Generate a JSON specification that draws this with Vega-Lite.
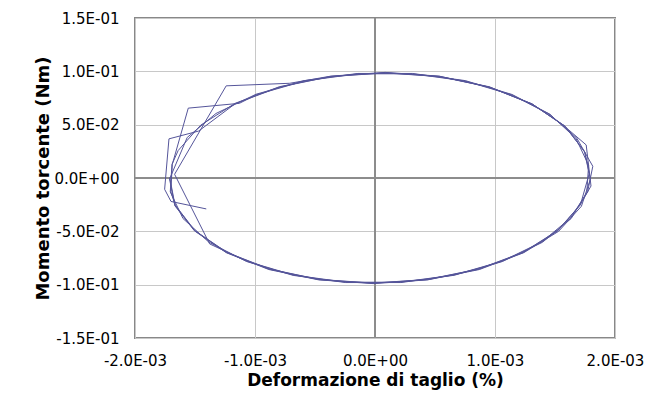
{
  "$schema": "https://vega.github.io/schema/vega-lite/v6.json",
  "autosize": "none",
  "width": 480,
  "height": 320,
  "padding": {"left": 135, "top": 18, "right": 49, "bottom": 60},
  "background": "white",
  "config": {
    "view": {"stroke": "#888888", "strokeWidth": 2},
    "axis": {
      "labelFont": "DejaVu Sans",
      "labelFontSize": 15,
      "labelColor": "#000000",
      "labelFlush": false,
      "labelOverlap": false,
      "titleFont": "DejaVu Sans",
      "titleFontWeight": "bold",
      "titleColor": "#000000",
      "ticks": false,
      "tickSize": 0,
      "domain": false,
      "grid": true,
      "gridColor": "#c8c8c8",
      "gridWidth": 1
    }
  },
  "data": {"values": [
    {"i":1,"strain":-0.001406,"torque":-0.0290},
    {"i":2,"strain":-0.001700,"torque":-0.0220},
    {"i":3,"strain":-0.001753,"torque":-0.0106},
    {"i":4,"strain":-0.001717,"torque":0.0367},
    {"i":5,"strain":-0.001470,"torque":0.0440},
    {"i":6,"strain":-0.001164,"torque":0.0697},
    {"i":7,"strain":-0.000794,"torque":0.0853},
    {"i":8,"strain":-0.000368,"torque":0.0951},
    {"i":9,"strain":0.000085,"torque":0.0985},
    {"i":10,"strain":0.000535,"torque":0.0951},
    {"i":11,"strain":0.000951,"torque":0.0853},
    {"i":12,"strain":0.001304,"torque":0.0697},
    {"i":13,"strain":0.001571,"torque":0.0493},
    {"i":14,"strain":0.001760,"torque":0.0310},
    {"i":15,"strain":0.001800,"torque":-0.0075},
    {"i":16,"strain":0.001708,"torque":-0.0255},
    {"i":17,"strain":0.001521,"torque":-0.0493},
    {"i":18,"strain":0.001234,"torque":-0.0697},
    {"i":19,"strain":0.000864,"torque":-0.0853},
    {"i":20,"strain":0.000438,"torque":-0.0951},
    {"i":21,"strain":-0.000015,"torque":-0.0985},
    {"i":22,"strain":-0.000465,"torque":-0.0951},
    {"i":23,"strain":-0.000881,"torque":-0.0853},
    {"i":24,"strain":-0.001234,"torque":-0.0697},
    {"i":25,"strain":-0.001501,"torque":-0.0493},
    {"i":26,"strain":-0.001664,"torque":-0.0255},
    {"i":27,"strain":-0.001702,"torque":-0.0129},
    {"i":28,"strain":-0.001689,"torque":0.0129},
    {"i":29,"strain":-0.001556,"torque":0.0655},
    {"i":30,"strain":-0.001130,"torque":0.0700},
    {"i":31,"strain":-0.000988,"torque":0.0781},
    {"i":32,"strain":-0.000587,"torque":0.0910},
    {"i":33,"strain":-0.000143,"torque":0.0977},
    {"i":34,"strain":0.000312,"torque":0.0977},
    {"i":35,"strain":0.000749,"torque":0.0910},
    {"i":36,"strain":0.001137,"torque":0.0781},
    {"i":37,"strain":0.001450,"torque":0.0600},
    {"i":38,"strain":0.001680,"torque":0.0377},
    {"i":39,"strain":0.001815,"torque":0.0110},
    {"i":40,"strain":0.001772,"torque":-0.0129},
    {"i":41,"strain":0.001628,"torque":-0.0377},
    {"i":42,"strain":0.001389,"torque":-0.0600},
    {"i":43,"strain":0.001058,"torque":-0.0781},
    {"i":44,"strain":0.000657,"torque":-0.0910},
    {"i":45,"strain":0.000213,"torque":-0.0977},
    {"i":46,"strain":-0.000242,"torque":-0.0977},
    {"i":47,"strain":-0.000679,"torque":-0.0910},
    {"i":48,"strain":-0.001067,"torque":-0.0781},
    {"i":49,"strain":-0.001378,"torque":-0.0618},
    {"i":50,"strain":-0.001670,"torque":0.0035},
    {"i":51,"strain":-0.001240,"torque":0.0864},
    {"i":52,"strain":-0.000710,"torque":0.0888},
    {"i":53,"strain":-0.000368,"torque":0.0955},
    {"i":54,"strain":0.000085,"torque":0.0990},
    {"i":55,"strain":0.000535,"torque":0.0955},
    {"i":56,"strain":0.000960,"torque":0.0850},
    {"i":57,"strain":0.001315,"torque":0.0690},
    {"i":58,"strain":0.001585,"torque":0.0485},
    {"i":59,"strain":0.001750,"torque":0.0240},
    {"i":60,"strain":0.001795,"torque":-0.0010},
    {"i":61,"strain":0.001720,"torque":-0.0265},
    {"i":62,"strain":0.001530,"torque":-0.0500},
    {"i":63,"strain":0.001240,"torque":-0.0700},
    {"i":64,"strain":0.000870,"torque":-0.0858},
    {"i":65,"strain":0.000440,"torque":-0.0955},
    {"i":66,"strain":-0.000015,"torque":-0.0990},
    {"i":67,"strain":-0.000470,"torque":-0.0955},
    {"i":68,"strain":-0.000885,"torque":-0.0858},
    {"i":69,"strain":-0.001240,"torque":-0.0700},
    {"i":70,"strain":-0.001505,"torque":-0.0495},
    {"i":71,"strain":-0.001668,"torque":-0.0260},
    {"i":72,"strain":-0.001712,"torque":-0.0010},
    {"i":73,"strain":-0.001565,"torque":0.0380},
    {"i":74,"strain":-0.001325,"torque":0.0605},
    {"i":75,"strain":-0.000992,"torque":0.0785},
    {"i":76,"strain":-0.000590,"torque":0.0913},
    {"i":77,"strain":-0.000143,"torque":0.0980},
    {"i":78,"strain":0.000312,"torque":0.0980},
    {"i":79,"strain":0.000752,"torque":0.0913},
    {"i":80,"strain":0.001142,"torque":0.0783},
    {"i":81,"strain":0.001458,"torque":0.0598},
    {"i":82,"strain":0.001675,"torque":0.0370},
    {"i":83,"strain":0.001780,"torque":0.0120},
    {"i":84,"strain":0.001765,"torque":-0.0135},
    {"i":85,"strain":0.001635,"torque":-0.0380},
    {"i":86,"strain":0.001395,"torque":-0.0603},
    {"i":87,"strain":0.001062,"torque":-0.0783},
    {"i":88,"strain":0.000660,"torque":-0.0912},
    {"i":89,"strain":0.000215,"torque":-0.0980},
    {"i":90,"strain":-0.000245,"torque":-0.0980},
    {"i":91,"strain":-0.000682,"torque":-0.0913},
    {"i":92,"strain":-0.001070,"torque":-0.0783},
    {"i":93,"strain":-0.001383,"torque":-0.0603},
    {"i":94,"strain":-0.001600,"torque":-0.0380},
    {"i":95,"strain":-0.001706,"torque":-0.0130},
    {"i":96,"strain":-0.001692,"torque":0.0128},
    {"i":97,"strain":-0.001640,"torque":0.0258},
    {"i":98,"strain":-0.001453,"torque":0.0495},
    {"i":99,"strain":-0.001166,"torque":0.0700},
    {"i":100,"strain":-0.000796,"torque":0.0856},
    {"i":101,"strain":-0.000368,"torque":0.0953},
    {"i":102,"strain":0.000085,"torque":0.0987},
    {"i":103,"strain":0.000537,"torque":0.0953},
    {"i":104,"strain":0.000953,"torque":0.0855},
    {"i":105,"strain":0.001308,"torque":0.0695},
    {"i":106,"strain":0.001578,"torque":0.0490},
    {"i":107,"strain":0.001745,"torque":0.0250},
    {"i":108,"strain":0.001785,"torque":0.0040},
    {"i":109,"strain":0.001712,"torque":-0.0250},
    {"i":110,"strain":0.001524,"torque":-0.0495},
    {"i":111,"strain":0.001236,"torque":-0.0699},
    {"i":112,"strain":0.000866,"torque":-0.0855},
    {"i":113,"strain":0.000439,"torque":-0.0953},
    {"i":114,"strain":-0.000015,"torque":-0.0987},
    {"i":115,"strain":-0.000466,"torque":-0.0953},
    {"i":116,"strain":-0.000882,"torque":-0.0855},
    {"i":117,"strain":-0.001236,"torque":-0.0699},
    {"i":118,"strain":-0.001503,"torque":-0.0494},
    {"i":119,"strain":-0.001666,"torque":-0.0257},
    {"i":120,"strain":-0.001711,"torque":0.0005}
  ]},
  "layer": [
    {
      "mark": {"type": "rule", "color": "#8c8c8c", "strokeWidth": 1},
      "encoding": {"y": {"datum": 0, "type": "quantitative", "scale": {"domain": [-0.15, 0.15], "nice": false, "zero": false}}}
    },
    {
      "mark": {"type": "rule", "color": "#8c8c8c", "strokeWidth": 1},
      "encoding": {"x": {"datum": 0, "type": "quantitative", "scale": {"domain": [-0.002, 0.002], "nice": false, "zero": false}}}
    },
    {
      "mark": {"type": "line", "color": "#55559a", "strokeWidth": 1, "clip": true},
      "encoding": {
        "x": {
          "field": "strain", "type": "quantitative",
          "scale": {"domain": [-0.002, 0.002], "nice": false, "zero": false},
          "axis": {
            "values": [-0.002, -0.001, 0, 0.001, 0.002],
            "labelExpr": "replace(replace(replace(upper(format(datum.value, '.1e')), 'E-', 'E-0'), 'E+', 'E+0'), '\u2212', '-')",
            "labelPadding": 15,
            "title": "Deformazione di taglio (%)",
            "titleFontSize": 17,
            "titlePadding": 4
          }
        },
        "y": {
          "field": "torque", "type": "quantitative",
          "scale": {"domain": [-0.15, 0.15], "nice": false, "zero": false},
          "axis": {
            "values": [-0.15, -0.1, -0.05, 0, 0.05, 0.1, 0.15],
            "labelExpr": "replace(replace(replace(upper(format(datum.value, '.1e')), 'E-', 'E-0'), 'E+', 'E+0'), '\u2212', '-')",
            "labelPadding": 16,
            "title": "Momento torcente (Nm)",
            "titleFontSize": 18,
            "titlePadding": 2
          }
        },
        "order": {"field": "i", "type": "quantitative"}
      }
    }
  ]
}
